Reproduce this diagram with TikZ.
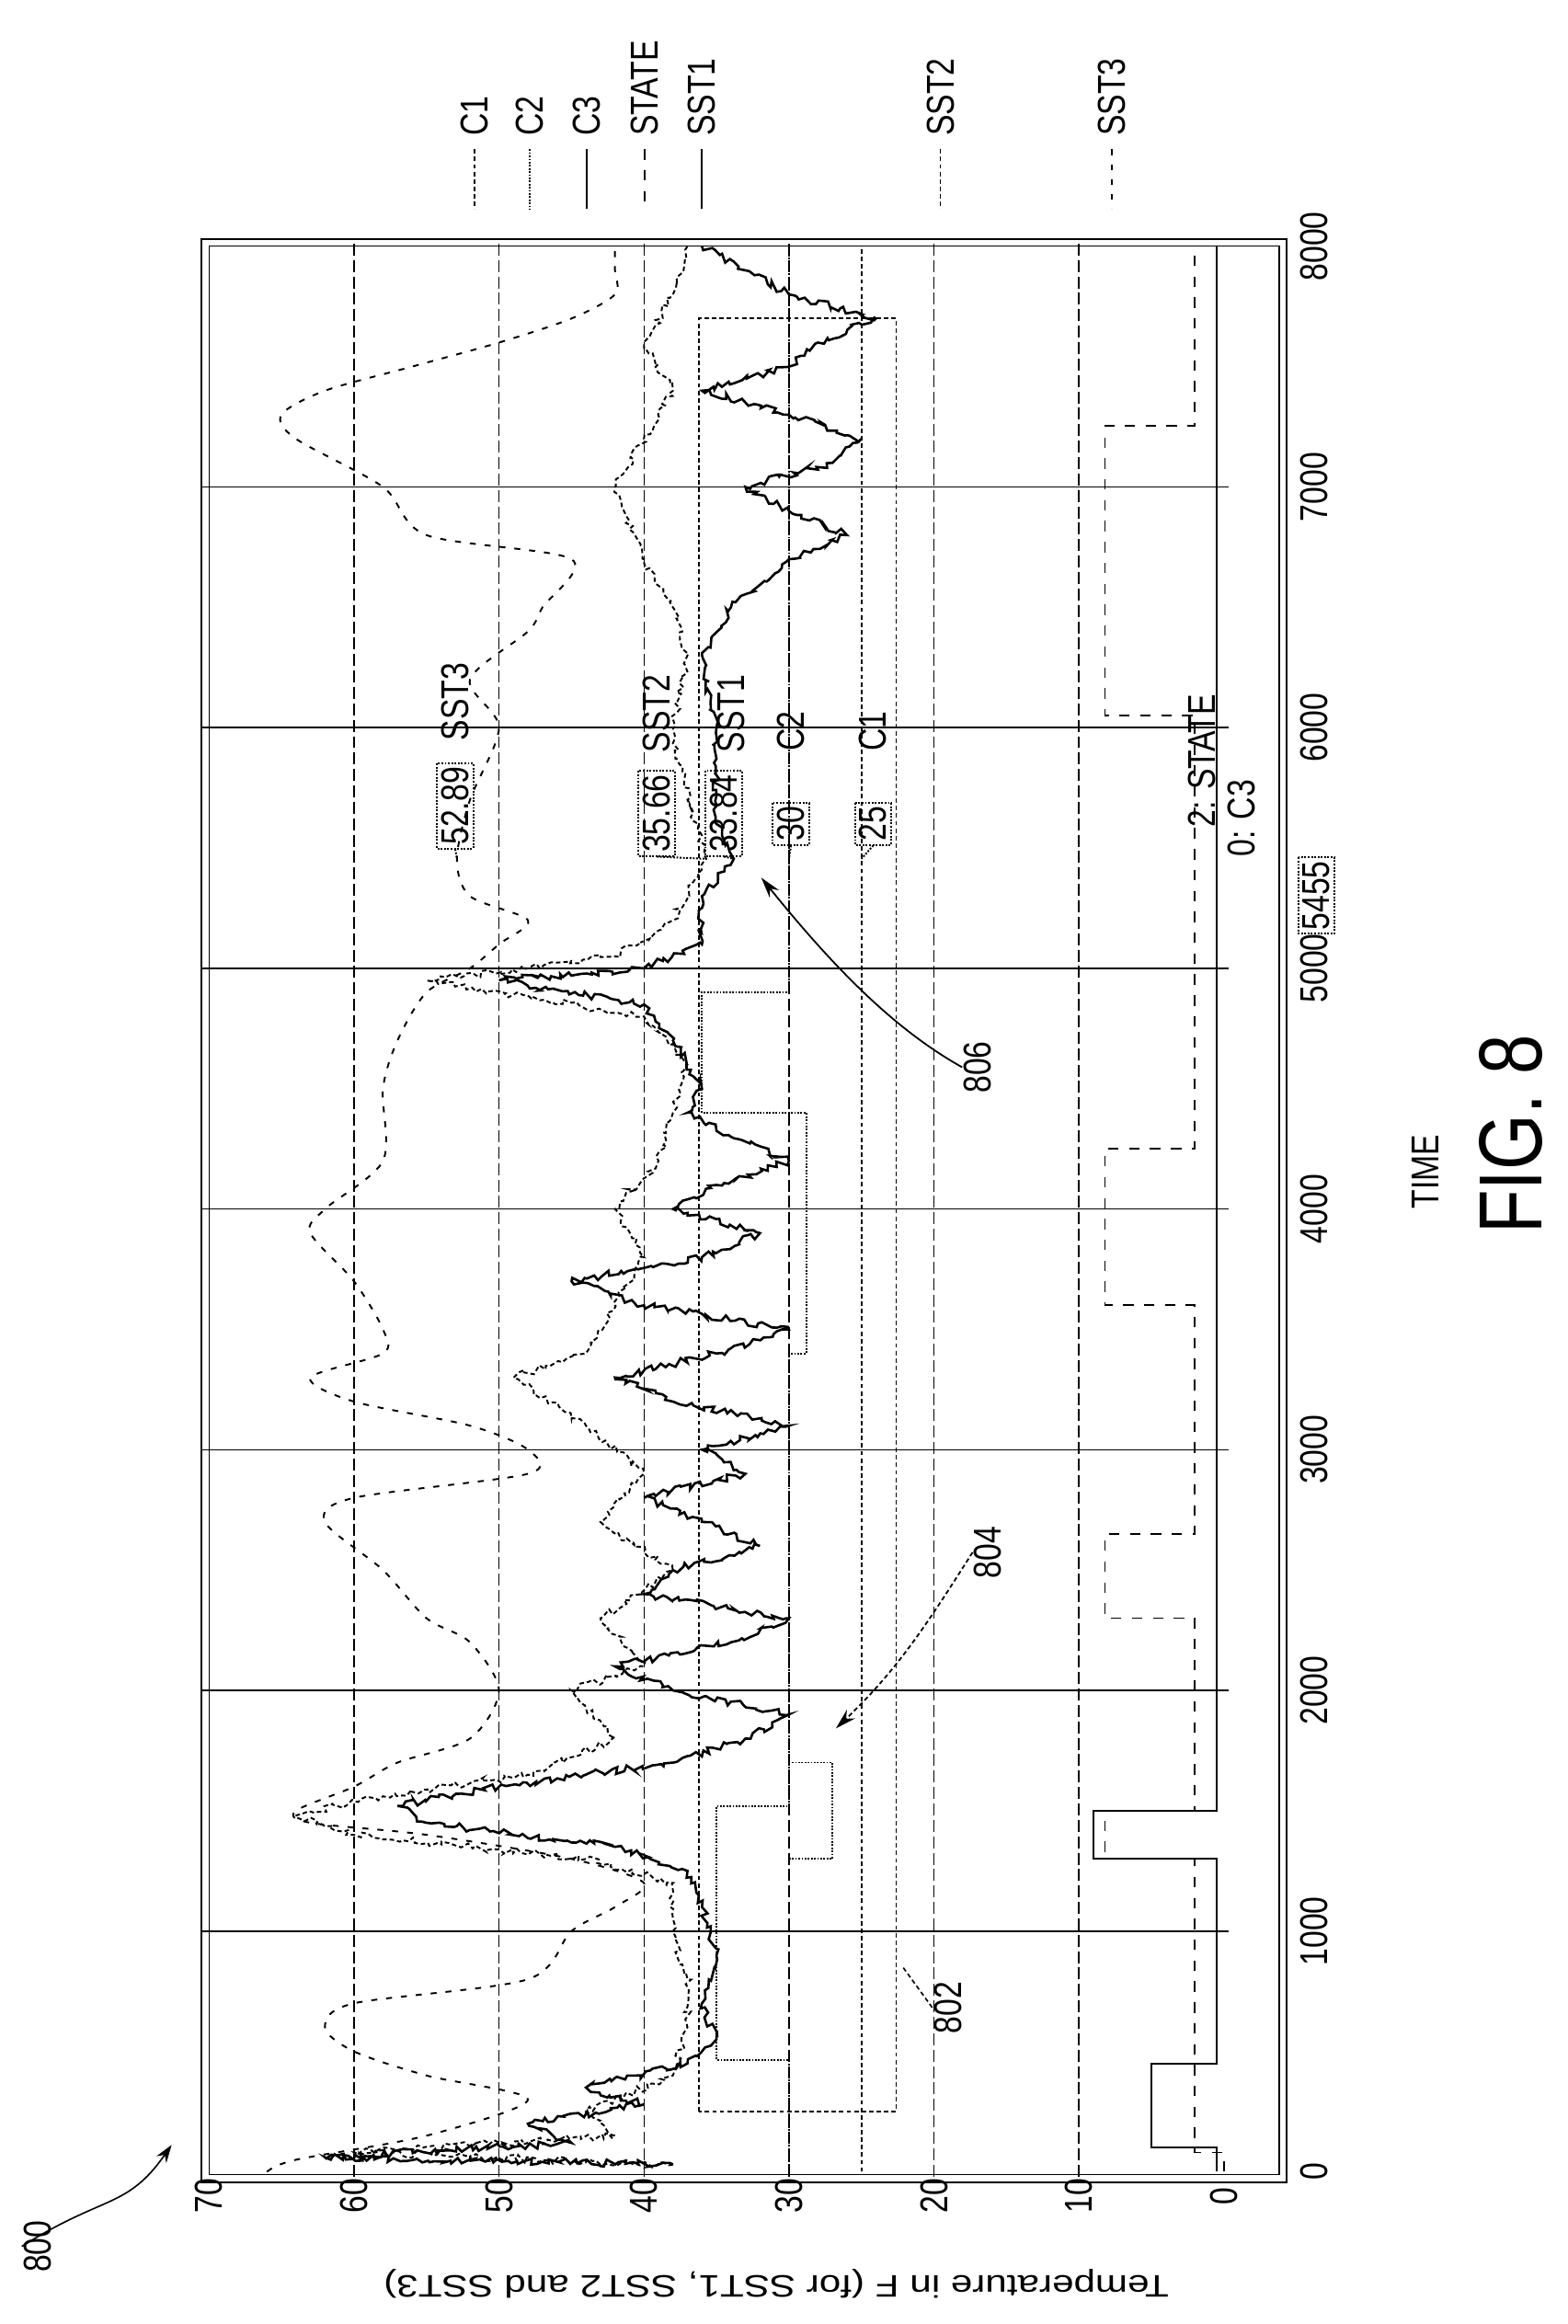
\documentclass[tikz,border=0pt]{standalone}
\usepackage{fontspec}
\setmainfont{Liberation Sans}
\usetikzlibrary{decorations.pathmorphing,arrows.meta}
\begin{document}
\begin{tikzpicture}[x=1pt,y=-1pt,
  lbl/.style={font=\fontsize{26}{28}\selectfont,inner sep=1pt,rotate=90,xscale=0.8},
  vbox/.style={lbl,draw,densely dotted,line width=1.2pt,inner sep=3pt},
  sstone/.style={line width=1.6pt},
  ssttwo/.style={line width=1.2pt,densely dashed},
  sstthree/.style={line width=1.2pt,dash pattern=on 4pt off 6pt},
  cone/.style={line width=1.1pt,densely dashed},
  ctwo/.style={line width=1.1pt,densely dotted},
  cthree/.style={line width=1.1pt},
  statest/.style={line width=1.1pt,dash pattern=on 7pt off 7pt},
  noisy/.style={decorate,decoration={random steps,segment length=3pt,amplitude=2.5pt}}]
\pgfmathsetseed{7}
\useasboundingbox (0,0) rectangle (1050,1557);
% frame
\node[draw,line width=1.4pt,minimum width=727pt,minimum height=1302pt,inner sep=0pt] (frame) at (498.5,811) {};
\node[draw,line width=0.8pt,minimum width=717pt,minimum height=1292pt,inner sep=0pt] (frameinner) at (498.5,811) {};
\begin{scope}[shift={(820,1455)},x={(0pt,16.125pt)},y={(-9.714pt,0pt)}]
 \foreach \k in {10,20,...,70} \draw[line width=1pt] (\k,-0.3) -- (\k,70.5);
 \foreach \k in {1,...,6} \draw[line width=0.9pt,dash pattern=on 8pt off 3pt] (-0.2,\k*10) -- (80.2,\k*10);
 % tick labels
 \foreach \k in {0,10,...,70} \node[lbl] (ty\k) at (-1,\k) {\k};
 \node[lbl] (tx0) at (0,-6.2) {0};
 \foreach \k in {10,20,...,80} \node[lbl] (tx\k) at (\k,-6.2) {\k00};
 % SST3
 \draw[sstthree] plot[smooth] coordinates {(0,66) (0.5,64) (1.5,55) (3,48) (4,55) (5,60) (6,62) (7,60) (8,48) (10,45) (11,42) (12,40) (13,45) (14,55) (14.5,63) (15,64) (16,60) (17,57) (18,52) (20,50) (22,52) (23,55) (25,58) (27,62) (28,60) (29,48) (30,48) (31,52) (32,60) (33,63) (34,58) (35,58) (37,60) (39,63) (40,62) (42,58) (45,58) (47,57) (49,55) (50,52) (51,50) (52,48) (53,52) (54.55,52.9) (57,52) (60,50) (62,52) (64,48) (65,47) (67,45) (68,55) (70,58) (72,64) (73,65) (74,62) (75,56) (76,50) (77,45) (78,42) (79,42) (80,42)};
 % SST2
 \draw[ssttwo,noisy] plot coordinates {(0.3,38) (0.8,60) (1.5,42) (2.5,44) (4,38) (6,37) (8,37) (10,38) (12,38) (13,44) (14,60) (14.8,64) (15.6,58) (16.5,48) (18,42) (20,45) (21,40) (23,43) (25,38) (27,43) (29,40) (31,44) (33,49) (34,44) (36,42) (38,40) (40,42) (42,39) (44,38) (46,37) (48,40) (49.5,55) (50.5,42) (52,38) (54.55,35.7) (57,37) (60,38) (63,37) (65,38) (67,40) (70,42) (72,40) (74,38) (76,40) (78,38) (80,37)};
 % SST1
 \draw[sstone,noisy] plot coordinates {(0.3,38) (0.6,62) (1.2,45) (2,48) (2.8,40) (3.5,44) (4.5,37) (5.5,35) (7,36) (9,35) (11,36) (12.5,37) (13.5,42) (14.5,55) (15.2,57) (16,50) (17,38) (18,33) (19,30) (20,38) (21,42) (22,34) (23,30) (24,40) (25,38) (26,32) (27,36) (28,40) (29,33) (30,36) (31,30) (32,38) (33,42) (34,35) (35,30) (36,40) (37,45) (38,36) (39,32) (40,38) (41,35) (42,30) (43,34) (44,37) (45,36) (47,38) (48.5,40) (49.5,50) (50,40) (51,36) (53,36) (54.55,33.8) (56,35) (60,35) (63,36) (65,34) (67,30) (68,26) (69,30) (70,33) (71,27) (72,25) (73,30) (74,36) (75,30) (76,28) (77,24) (78,30) (79,33) (80,36)};
 % C curves
 \draw[cone] (0,25) -- (80,25);
 \draw[cone] (2.5,36.2) rectangle (77,22.6);
 \draw[ctwo] (0,30) -- (4.65,30) -- (4.65,35) -- (15.2,35) -- (15.2,30) -- (34,30) -- (34,28.8) -- (44,28.8) -- (44,36) -- (49,36) -- (49,30) -- (80,30);
 \draw[ctwo] (13,30) -- (13,27) -- (17,27) -- (17,30);
 \draw[cthree] (0,0.5) -- (1,0.5) -- (1,5) -- (4.5,5) -- (4.5,0.5) -- (13,0.5) -- (13,9) -- (15,9) -- (15,0.5) -- (80,0.5);
 \draw[statest] (0,0) -- (0.8,0) -- (0.8,2) -- (13,2) -- (13,8.2) -- (15,8.2) -- (15,2) -- (23,2) -- (23,8.2) -- (26.5,8.2) -- (26.5,2) -- (36,2) -- (36,8.2) -- (42.5,8.2) -- (42.5,2) -- (60.5,2) -- (60.5,8.2) -- (72.55,8.2) -- (72.55,2) -- (80,2);
 \coordinate (p3) at (54.55,52.9);
 \coordinate (p2) at (54.55,35.7);
 \coordinate (p1) at (54.55,33.8);
 \coordinate (pc2) at (54.55,30);
 \coordinate (pc1) at (54.55,25);
\end{scope}
% value boxes
\node[vbox] (v3) at (305,540) {52.89};
\node[vbox] (v2) at (440,545) {35.66};
\node[vbox] (v1) at (485,545) {33.84};
\node[vbox] (vc2) at (530,552) {30};
\node[vbox] (vc1) at (585,552) {25};
\draw[densely dotted,line width=1.2pt] (v3.west) -- (p3);
\draw[densely dotted,line width=1.2pt] (v2.west) -- (p2);
\draw[densely dotted,line width=1.2pt] (v1.west) -- (p1);
\draw[densely dotted,line width=1.2pt] (vc2.west) -- (pc2);
\draw[densely dotted,line width=1.2pt] (vc1.west) -- (pc1);
\node[lbl,anchor=west] (n3) at (305,497) {SST3};
\node[lbl,anchor=west] (n2) at (440,505) {SST2};
\node[lbl,anchor=west] (n1) at (490,505) {SST1};
\node[lbl] (nc2) at (530,490) {C2};
\node[lbl] (nc1) at (585,490) {C1};
\node[lbl,anchor=west] (ns) at (805,555) {2: STATE};
\node[lbl,anchor=west] (nc3) at (832,575) {0: C3};
\node[vbox] (vt) at (882,600) {5455};
% reference numerals
\node[lbl] (r806) at (655,715) {806};
\draw[-{Stealth[length=14pt,width=8pt]},line width=1.1pt] (r806.north) .. controls (600,690) and (560,650) .. (510,588);
\node[lbl] (r804) at (662,1040) {804};
\draw[-{Stealth[length=14pt,width=8pt]},line width=1.1pt,densely dashed] (r804.north) .. controls (620,1090) and (600,1120) .. (560,1158);
\node[lbl] (r802) at (635,1345) {802};
\draw[line width=1pt,densely dashed] (r802.north) -- (605,1318);
\node[lbl] (r800) at (25,1505) {800};
\draw[-{Stealth[length=12pt,width=8pt]},line width=1pt] (r800.north) .. controls (70,1470) and (85,1480) .. (115,1437);
% axis titles
\node[lbl] (time) at (955,785) {TIME};
\node[font=\fontsize{60}{62}\selectfont,rotate=90,xscale=0.8] (fig) at (1012,760) {FIG. 8};
\node[lbl,rotate=90] (ylab) at (520,1530) {Temperature in F (for SST1, SST2 and SST3)};
% legend
\foreach \n/\xx/\sty in {C1/318/cone,C2/355/ctwo,C3/393/cthree,STATE/432/statest,SST1/470/sstone,SST2/630/ssttwo,SST3/745/sstthree}{
  \node[lbl,anchor=west] (leg\n) at (\xx,92) {\n};
  \draw[\sty] (\xx,100) -- (\xx,140);
}
\end{tikzpicture}
\end{document}
